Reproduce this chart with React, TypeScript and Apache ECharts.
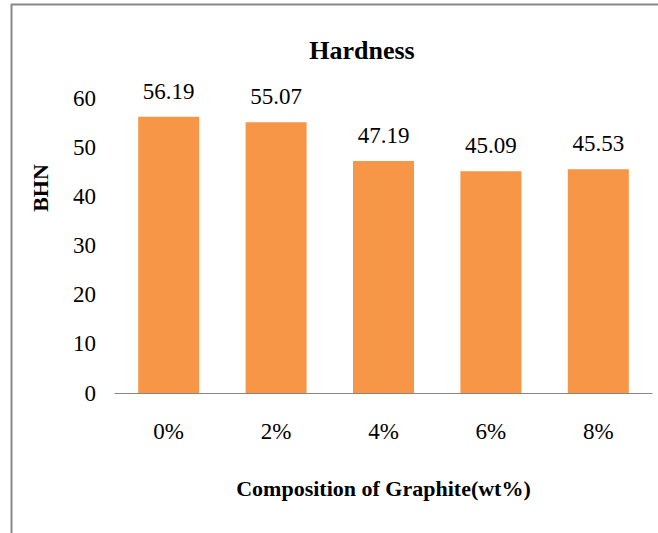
import React, { useEffect, useRef } from "react";
import * as echarts from "echarts";

const categories = ["0%", "2%", "4%", "6%", "8%"];
const hardness = [56.19, 55.07, 47.19, 45.09, 45.53];
const yTicks = { min: 0, max: 60, interval: 10 };

const FONT = "Liberation Serif";

export default function App() {
  const ref = useRef<HTMLDivElement>(null);
  useEffect(() => {
    if (!ref.current) return;
    const chart = echarts.init(ref.current, null, { renderer: "svg" });
    chart.setOption({
      animation: false,
      backgroundColor: "#ffffff",
      textStyle: { fontFamily: FONT },
      title: {
        text: "Hardness",
        left: 357,
        top: 32,
        textAlign: "center",
        textStyle: { fontFamily: FONT, fontSize: 26, fontWeight: "bold", color: "#000" },
      },
      grid: { left: 115, right: 6, top: 98, bottom: 140, containLabel: false },
      xAxis: {
        type: "category",
        data: categories,
        axisLine: { show: true, lineStyle: { color: "#868686", width: 1 } },
        axisTick: { show: false },
        axisLabel: { fontFamily: FONT, fontSize: 23, color: "#000", margin: 27 },
        name: "Composition of Graphite(wt%)",
        nameLocation: "middle",
        nameGap: 84,
        nameTextStyle: { fontFamily: FONT, fontSize: 22, fontWeight: "bold", color: "#000" },
      },
      yAxis: {
        type: "value",
        min: yTicks.min,
        max: yTicks.max,
        interval: yTicks.interval,
        axisLine: { show: false },
        axisTick: { show: false },
        splitLine: { show: false },
        axisLabel: { fontFamily: FONT, fontSize: 23, color: "#000", margin: 19 },
      },
      graphic: [
        {
          type: "text",
          x: 40,
          y: 188,
          rotation: Math.PI / 2,
          style: {
            text: "BHN",
            fontFamily: FONT,
            fontSize: 22,
            fontWeight: "bold",
            fill: "#000",
            align: "center",
            verticalAlign: "middle",
          },
        },
        {
          type: "line",
          shape: { x1: 11, y1: 4.5, x2: 658, y2: 4.5 },
          style: { stroke: "#888888", lineWidth: 2 },
        },
        {
          type: "line",
          shape: { x1: 11.5, y1: 4, x2: 11.5, y2: 533 },
          style: { stroke: "#888888", lineWidth: 2 },
        },
      ],
      series: [
        {
          type: "bar",
          data: hardness,
          barWidth: 61,
          itemStyle: { color: "#F79646" },
          label: {
            show: true,
            position: "top",
            distance: 14,
            fontFamily: FONT,
            fontSize: 23,
            color: "#000",
            formatter: (p: any) => p.value.toFixed(2),
          },
        },
      ],
    });
    return () => chart.dispose();
  }, []);
  return (
    <div
      ref={ref}
      style={{ position: "fixed", left: 0, top: 0, width: 658, height: 533 }}
    />
  );
}
